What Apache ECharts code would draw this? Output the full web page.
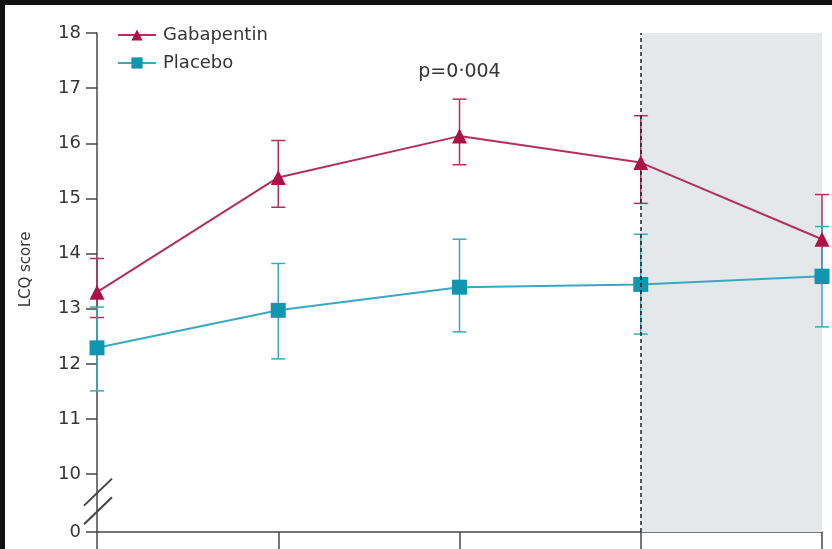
<!DOCTYPE html>
<html>
<head>
<meta charset="utf-8">
<script src="https://cdn.jsdelivr.net/npm/echarts@6/dist/echarts.min.js"></script>
<style>html,body{margin:0;padding:0;background:#fff}#c{width:832px;height:549px}</style>
</head>
<body>
<div id="c"></div>
<script>
// ---- data ----
var weeks = [0, 4, 8, 12, 16];
var gabMean = [13.30, 15.38, 16.13, 15.65, 14.26];
var gabLow  = [12.84, 14.84, 15.61, 14.91, 13.46];
var gabHigh = [13.91, 16.05, 16.80, 16.50, 15.07];
var plaMean = [12.29, 12.97, 13.39, 13.44, 13.59];
var plaLow  = [11.51, 12.09, 12.58, 12.54, 12.67];
var plaHigh = [13.03, 13.82, 14.26, 14.35, 14.49];
var yTickValues = [0, 10, 11, 12, 13, 14, 15, 16, 17, 18];
var shadeRange = [12, 16];
var pText = 'p=0\u00b7004';
var pAt = [8, 17.3];

// axis break: value "0" drawn just below 10
var breakBase = 8.95;
function mapY(v) { return v === 0 ? breakBase : v; }
var tickPos = yTickValues.map(mapY);

var GAB_LINE = '#b3305a', GAB_MARK = '#ad1245';
var PLA_LINE = '#3aa8bf', PLA_MARK = '#1296b0';
var AX = '#474747';
var TXT = '#353535';
var FONT = 'DejaVu Sans';

function errData(mean, lo, hi) {
  return weeks.map(function (w, i) { return [w, lo[i], hi[i]]; });
}
function errRender(color) {
  return function (params, api) {
    var x = api.value(0);
    var lo = api.coord([x, api.value(1)]);
    var hi = api.coord([x, api.value(2)]);
    var hw = 7;
    var st = { stroke: color, lineWidth: 1.5 };
    return { type: 'group', children: [
      { type: 'line', shape: { x1: lo[0], y1: lo[1], x2: hi[0], y2: hi[1] }, style: st },
      { type: 'line', shape: { x1: lo[0] - hw, y1: lo[1], x2: lo[0] + hw, y2: lo[1] }, style: st },
      { type: 'line', shape: { x1: hi[0] - hw, y1: hi[1], x2: hi[0] + hw, y2: hi[1] }, style: st }
    ]};
  };
}

var chart = echarts.init(document.getElementById('c'), null, { renderer: 'canvas' });
var option = {
  animation: false,
  backgroundColor: '#ffffff',
  grid: { left: 97, right: 10, top: 33, bottom: 17 },
  legend: {
    orient: 'vertical', left: 112, top: 21,
    itemWidth: 38, itemHeight: 14, itemGap: 10,
    data: ['Gabapentin', 'Placebo'],
    textStyle: { fontFamily: FONT, fontSize: 18, color: TXT, padding: [0, 0, 0, 2] }
  },
  xAxis: {
    type: 'value', min: 0, max: 16, interval: 4,
    axisLine: { onZero: false, lineStyle: { color: AX, width: 1.5 } },
    axisTick: { show: true, length: 20, lineStyle: { color: AX, width: 1.5 } },
    axisLabel: { show: false },
    splitLine: { show: false }
  },
  yAxis: {
    type: 'value', min: breakBase, max: 18,
    name: 'LCQ score', nameLocation: 'middle', nameGap: 63, nameRotate: 90,
    nameTextStyle: { fontFamily: FONT, fontSize: 15, color: TXT, padding: [0, 0, 0, 26] },
    axisLine: { show: true, lineStyle: { color: AX, width: 1.5 } },
    axisTick: { show: true, length: 11, customValues: tickPos, lineStyle: { color: AX, width: 1.5 } },
    axisLabel: {
      customValues: tickPos, margin: 16,
      fontFamily: FONT, fontSize: 18, color: TXT,
      formatter: function (v) { return v < 9.5 ? '0' : String(Math.round(v)); }
    },
    splitLine: { show: false }
  },
  series: [
    {
      type: 'line', name: '_shade', data: [], z: 1, silent: true,
      markArea: { silent: true, itemStyle: { color: '#e5e8eb' }, data: [[{ xAxis: shadeRange[0] }, { xAxis: shadeRange[1] }]] },
      markLine: { silent: true, symbol: 'none', label: { show: false },
        lineStyle: { type: [4, 3], color: '#222', width: 1.5 }, data: [{ xAxis: shadeRange[0] }] }
    },
    {
      type: 'custom', name: '_gabErr', z: 3, renderItem: errRender(GAB_LINE),
      data: errData(gabMean, gabLow, gabHigh), encode: { x: 0, y: [1, 2] }
    },
    {
      type: 'custom', name: '_plaErr', z: 3, renderItem: errRender(PLA_LINE),
      data: errData(plaMean, plaLow, plaHigh), encode: { x: 0, y: [1, 2] }
    },
    {
      type: 'line', name: 'Placebo', z: 4,
      data: weeks.map(function (w, i) { return [w, plaMean[i]]; }),
      symbol: 'rect', symbolSize: 15,
      lineStyle: { color: PLA_LINE, width: 2 },
      itemStyle: { color: PLA_MARK, borderWidth: 0 }
    },
    {
      type: 'line', name: 'Gabapentin', z: 5,
      data: weeks.map(function (w, i) { return [w, gabMean[i]]; }),
      symbol: 'triangle', symbolSize: 15,
      lineStyle: { color: GAB_LINE, width: 2 },
      itemStyle: { color: GAB_MARK, borderWidth: 0 },
      markPoint: {
        silent: true, symbol: 'circle', symbolSize: 0,
        label: { show: true, formatter: pText, fontFamily: FONT, fontSize: 19, color: TXT },
        data: [{ coord: pAt }]
      }
    }
  ]
};
chart.setOption(option);

// break slashes and photo frame
var p10 = chart.convertToPixel({ gridIndex: 0 }, [0, 10]);
var p0 = chart.convertToPixel({ gridIndex: 0 }, [0, breakBase]);
var span = p0[1] - p10[1];
var ax = p10[0];
function slash(cy) {
  return { type: 'line', shape: { x1: ax - 13, y1: cy + 13, x2: ax + 15, y2: cy - 14 },
    style: { stroke: '#444', lineWidth: 2 }, z: 10 };
}
chart.setOption({
  graphic: [
    slash(p10[1] + span * 0.32),
    slash(p10[1] + span * 0.64),
    { type: 'rect', shape: { x: 0, y: 0, width: 832, height: 5 }, style: { fill: '#111' }, z: 20 },
    { type: 'rect', shape: { x: 0, y: 0, width: 5, height: 549 }, style: { fill: '#111' }, z: 20 }
  ]
});
</script>
</body>
</html>
